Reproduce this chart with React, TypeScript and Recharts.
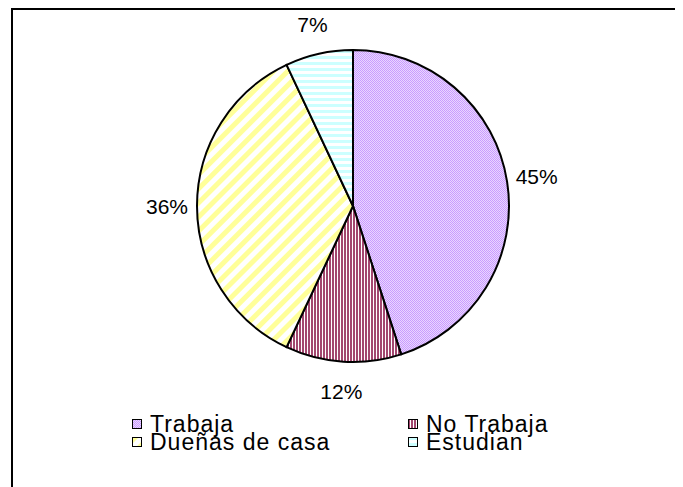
import { PieChart, Pie, Cell } from "recharts";

const categories = ["Trabaja", "No Trabaja", "Dueñas de casa", "Estudian"];
const values = [45, 12, 36, 7];
const fills = ["url(#pTrabaja)", "url(#pNoTrabaja)", "url(#pDuenas)", "url(#pEstudian)"];

const data = categories.map((name, i) => ({ name, value: values[i] }));

const RAD = Math.PI / 180;

const renderLabel = (props: any) => {
  const { cx, cy, midAngle, outerRadius, value } = props;
  const r = outerRadius + 30;
  const x = cx + r * Math.cos(-midAngle * RAD);
  const y = cy + r * Math.sin(-midAngle * RAD);
  return (
    <text
      x={x}
      y={y}
      textAnchor="middle"
      dominantBaseline="central"
      fill="#000"
      fontSize={21}
      fontFamily="'Liberation Sans', Arial, sans-serif"
    >
      {`${value}%`}
    </text>
  );
};

export default function App() {
  return (
    <div style={{ position: "relative", width: 675, height: 479, overflow: "hidden" }}>
      <div
        style={{
          position: "absolute",
          left: 3,
          top: 0,
          width: 720,
          height: 520,
          border: "2px solid #000",
          boxSizing: "border-box",
        }}
      />
      <PieChart
        width={675}
        height={479}
        margin={{ top: 0, right: 0, bottom: 0, left: 0 }}
        style={{ position: "absolute", left: 0, top: 0 }}
      >
        <defs>
          <pattern id="pTrabaja" width={2} height={2} patternUnits="userSpaceOnUse">
            <rect width={2} height={2} fill="#ead6ff" />
            <rect width={1} height={1} fill="#c99cff" />
            <rect x={1} y={1} width={1} height={1} fill="#c99cff" />
          </pattern>
          <pattern id="pNoTrabaja" width={3} height={3} patternUnits="userSpaceOnUse">
            <rect width={3} height={3} fill="#ffffff" />
            <rect width={2} height={3} fill="#a3476f" />
          </pattern>
          <pattern
            id="pDuenas"
            width={10}
            height={10}
            patternUnits="userSpaceOnUse"
            patternTransform="rotate(45)"
          >
            <rect width={10} height={10} fill="#ffffff" />
            <rect width={5} height={10} fill="#ffff99" />
          </pattern>
          <pattern id="pEstudian" width={6} height={6} patternUnits="userSpaceOnUse">
            <rect width={6} height={6} fill="#ffffff" />
            <rect width={6} height={3} fill="#ccffff" />
          </pattern>
        </defs>
        <Pie
          data={data}
          dataKey="value"
          nameKey="name"
          cx={345}
          cy={198}
          outerRadius={156}
          startAngle={90}
          endAngle={-270}
          stroke="#000"
          strokeWidth={2}
          label={renderLabel}
          labelLine={false}
          isAnimationActive={false}
        >
          {data.map((d, i) => (
            <Cell key={d.name} fill={fills[i]} />
          ))}
        </Pie>
      </PieChart>
      <div
        style={{
          position: "absolute",
          left: 124,
          top: 407,
          width: 480,
          display: "grid",
          gridTemplateColumns: "276px 204px",
          fontFamily: "'Liberation Sans', Arial, sans-serif",
          fontSize: 23,
          letterSpacing: "1px",
          lineHeight: "18px",
          color: "#000",
        }}
      >
        {categories.map((c, i) => (
          <div key={c} style={{ display: "flex", alignItems: "center", whiteSpace: "nowrap" }}>
            <svg width={10} height={10} style={{ marginRight: 8, flexShrink: 0 }}>
              <rect x={0.5} y={0.5} width={9} height={9} fill={fills[i]} stroke="#000" strokeWidth={1} />
            </svg>
            <span>{c}</span>
          </div>
        ))}
      </div>
    </div>
  );
}
